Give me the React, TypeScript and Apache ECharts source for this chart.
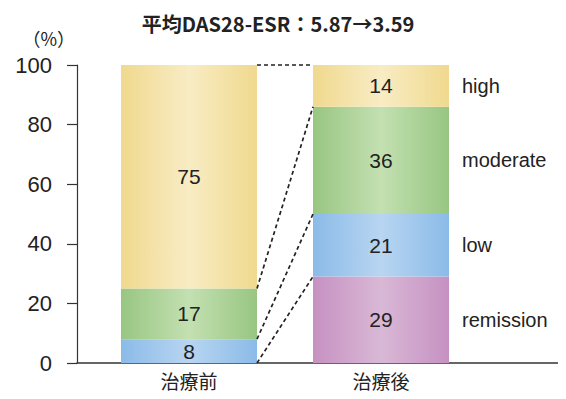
import React, { useEffect, useRef } from "react";
import * as echarts from "echarts";

const categories = ["治療前", "治療後"];
const levels = ["remission", "low", "moderate", "high"];
const remission = [0, 29];
const low = [8, 21];
const moderate = [17, 36];
const high = [75, 14];
const yTicks = [0, 20, 40, 60, 80, 100];
const titleText = "平均DAS28-ESR：5.87→3.59";
const unitText = "（%）";

const BAR_W = 136;
const FONT = "'Liberation Sans', Arial, 'Noto Sans CJK JP', sans-serif";
const JP = "'Noto Sans CJK JP', sans-serif";

const grad = (edge: string, mid: string) =>
  new echarts.graphic.LinearGradient(0, 0, 1, 0, [
    { offset: 0, color: edge },
    { offset: 0.5, color: mid },
    { offset: 1, color: edge },
  ]);

export default function App() {
  const ref = useRef<HTMLDivElement>(null);
  useEffect(() => {
    if (!ref.current) return;
    const chart = echarts.init(ref.current, null, { renderer: "svg" });
    const stacks = [remission, low, moderate, high];
    const colors = [
      grad("#c691c2", "#d9b8d6"),
      grad("#8bbbe8", "#b8d5f1"),
      grad("#98c682", "#c3e0b1"),
      grad("#f0d98e", "#f8ecc4"),
    ];
    // cumulative bottom of stack level i, for [before, after]
    const cum = (i: number) =>
      stacks.slice(0, i).reduce((s, a) => [s[0] + a[0], s[1] + a[1]], [0, 0]);
    // dashed links between segment boundaries: top, high bottom, moderate bottom, low bottom
    const links = [4, 3, 2, 1].map((k) => {
      const c = cum(k);
      return k === 1 ? [0, 0, c[1]] : [0, c[0], c[1]];
    });
    const labelData = levels.map((name, i) => ({
      name,
      value: [1, cum(i)[1] + stacks[i][1] / 2],
    }));

    const barSeries = levels.map((name, i) => ({
      name,
      type: "bar",
      stack: "total",
      xAxisIndex: 0,
      yAxisIndex: 0,
      barWidth: BAR_W,
      data: stacks[i],
      itemStyle: { color: colors[i] },
      label: {
        show: true,
        position: "inside",
        fontSize: 21,
        fontFamily: FONT,
        color: "#222",
        formatter: (p: any) => (p.value > 0 ? String(p.value) : ""),
      },
    }));

    chart.setOption({
      animation: false,
      title: {
        text: titleText,
        left: 273,
        textAlign: "center",
        top: 8,
        textStyle: { fontSize: 20, fontWeight: "bold", fontFamily: JP, color: "#222" },
      },
      grid: [
        { left: 93, width: 384, top: 65, bottom: 36 },
        { left: 77, right: 0, top: 65, bottom: 36 },
      ],
      xAxis: [
        {
          type: "category",
          gridIndex: 0,
          data: categories,
          axisLine: { show: false },
          axisTick: { show: false },
          axisLabel: { fontSize: 19, fontFamily: JP, color: "#222", margin: 7, lineHeight: 20 },
        },
        {
          type: "value",
          gridIndex: 1,
          min: 0,
          max: 1,
          axisLine: { show: true, lineStyle: { color: "#333", width: 1.5 } },
          axisTick: { show: false },
          axisLabel: { show: false },
          splitLine: { show: false },
        },
      ],
      yAxis: [
        { type: "value", gridIndex: 0, min: 0, max: 100, show: false },
        {
          type: "value",
          gridIndex: 1,
          min: yTicks[0],
          max: yTicks[yTicks.length - 1],
          interval: yTicks[1] - yTicks[0],
          name: unitText,
          nameLocation: "end",
          nameGap: 18,
          nameTextStyle: { fontSize: 18, fontFamily: JP, color: "#222", align: "right", padding: [0, 2, 0, 0] },
          axisLine: { show: true, lineStyle: { color: "#333", width: 1.2 } },
          axisTick: { show: true, length: 10, lineStyle: { color: "#333", width: 1.2 } },
          axisLabel: { fontSize: 22, fontFamily: FONT, color: "#222", margin: 25 },
          splitLine: { show: false },
        },
      ],
      series: [
        ...barSeries,
        {
          type: "custom",
          xAxisIndex: 0,
          yAxisIndex: 0,
          encode: { x: 0, y: [1, 2] },
          data: links,
          silent: true,
          z: 5,
          renderItem: (params: any, api: any) => {
            const p1 = api.coord([0, api.value(1)]);
            const p2 = api.coord([1, api.value(2)]);
            return {
              type: "line",
              shape: { x1: p1[0] + BAR_W / 2, y1: p1[1], x2: p2[0] - BAR_W / 2, y2: p2[1] },
              style: { stroke: "#222", lineWidth: 1.7, lineDash: [4, 3] },
            };
          },
        },
        {
          type: "custom",
          xAxisIndex: 0,
          yAxisIndex: 0,
          encode: { x: 0, y: 1 },
          data: labelData,
          silent: true,
          renderItem: (params: any, api: any) => {
            const p = api.coord([api.value(0), api.value(1)]);
            return {
              type: "text",
              style: {
                text: levels[params.dataIndex],
                x: p[0] + BAR_W / 2 + 13,
                y: p[1],
                fill: "#222",
                font: `20px ${FONT}`,
                align: "left",
                verticalAlign: "middle",
              },
            };
          },
        },
      ],
    });
    return () => chart.dispose();
  }, []);
  return <div ref={ref} style={{ width: 566, height: 399, margin: -8 }} />;
}
